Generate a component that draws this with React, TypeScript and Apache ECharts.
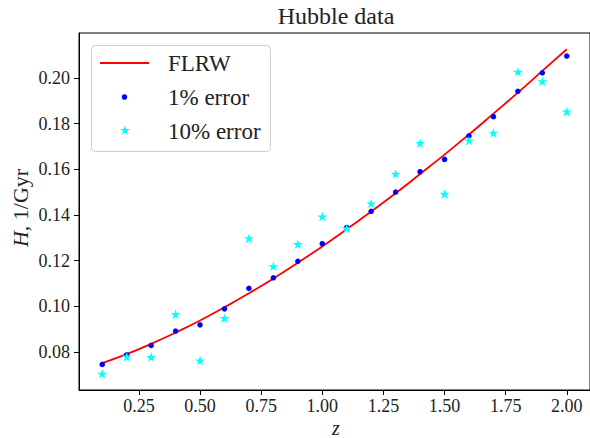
import React, { useEffect, useRef } from "react";
import * as echarts from "echarts";

const zValues = [0.1, 0.2, 0.3, 0.4, 0.5, 0.6, 0.7, 0.8, 0.9, 1.0, 1.1, 1.2, 1.3, 1.4, 1.5, 1.6, 1.7, 1.8, 1.9, 2.0];
const flrwH = [0.0752, 0.0791, 0.0836, 0.0885, 0.0938, 0.0996, 0.1057, 0.1122, 0.1191, 0.1262, 0.1337, 0.1415, 0.1495, 0.1579, 0.1664, 0.1752, 0.1843, 0.1935, 0.2030, 0.2125];
const err1H = [0.0746, 0.0788, 0.0829, 0.0892, 0.0919, 0.0989, 0.1079, 0.1125, 0.1197, 0.1274, 0.1345, 0.1416, 0.1500, 0.1589, 0.1643, 0.1746, 0.1830, 0.1941, 0.2022, 0.2095];
const err10H = [0.0705, 0.0780, 0.0778, 0.0966, 0.0763, 0.0948, 0.1297, 0.1175, 0.1272, 0.1393, 0.1341, 0.1450, 0.1580, 0.1714, 0.1492, 0.1726, 0.1759, 0.2026, 0.1984, 0.1852];
const xTicks = [0.25, 0.5, 0.75, 1.0, 1.25, 1.5, 1.75, 2.0];
const yTicks = [0.08, 0.1, 0.12, 0.14, 0.16, 0.18, 0.2];

const FONT = "'Liberation Serif', 'DejaVu Serif', serif";
const STAR = "path://M0,-1L0.2245,-0.309L0.9511,-0.309L0.3633,0.118L0.5878,0.809L0,0.382L-0.5878,0.809L-0.3633,0.118L-0.9511,-0.309L-0.2245,-0.309Z";

function starPoints(cx: number, cy: number, r: number): number[][] {
  const pts: number[][] = [];
  for (let i = 0; i < 10; i++) {
    const a = (-90 + i * 36) * Math.PI / 180;
    const rr = i % 2 === 0 ? r : r * 0.382;
    pts.push([cx + rr * Math.cos(a), cy + rr * Math.sin(a)]);
  }
  return pts;
}

export default function App() {
  const ref = useRef<HTMLDivElement>(null);
  useEffect(() => {
    if (!ref.current) return;
    const chart = echarts.init(ref.current, null, { renderer: "svg" });
    const pair = (ys: number[]) => zValues.map((z, i) => [z, ys[i]]);
    chart.setOption({
      animation: false,
      backgroundColor: "#ffffff",
      grid: { left: 79, top: 33, right: -3, bottom: 48, show: true, borderColor: "#000", borderWidth: 1, backgroundColor: "transparent" },
      xAxis: {
        type: "value", min: 0.005, max: 2.095,
        axisLine: { show: true, lineStyle: { color: "#000", width: 1 } },
        splitLine: { show: false },
        axisTick: { show: true, length: 5, inside: false, customValues: xTicks, lineStyle: { color: "#000", width: 1 } },
        axisLabel: { customValues: xTicks, formatter: (v: number) => v.toFixed(2), color: "#222", fontFamily: FONT, fontSize: 18, margin: 7 },
      },
      yAxis: {
        type: "value", min: 0.0634, max: 0.2196,
        axisLine: { show: true, lineStyle: { color: "#000", width: 1 } },
        splitLine: { show: false },
        axisTick: { show: true, length: 5, inside: false, customValues: yTicks, lineStyle: { color: "#000", width: 1 } },
        axisLabel: { customValues: yTicks, formatter: (v: number) => v.toFixed(2), color: "#222", fontFamily: FONT, fontSize: 18, margin: 9 },
      },
      series: [
        { name: "FLRW", type: "line", data: pair(flrwH), smooth: true, symbol: "none", lineStyle: { color: "#ff0000", width: 1.8 }, z: 2 },
        { name: "1% error", type: "scatter", data: pair(err1H), symbol: "circle", symbolSize: 5.5, itemStyle: { color: "#0000ff", opacity: 1 }, z: 3 },
        { name: "10% error", type: "scatter", data: pair(err10H), symbol: STAR, symbolKeepAspect: true, symbolSize: 10, itemStyle: { color: "#00ffff", opacity: 1 }, z: 4 },
      ],
      graphic: [
        { type: "text", x: 336, y: 16, style: { text: "Hubble data", font: `24px ${FONT}`, fill: "#222", align: "center", verticalAlign: "middle" } },
        { type: "text", x: 336, y: 428, style: { text: "z", font: `italic 20px ${FONT}`, fill: "#222", align: "center", verticalAlign: "middle" } },
        {
          type: "text", x: 20, y: 208, rotation: Math.PI / 2,
          style: {
            text: "{i|H}, 1/Gyr", fill: "#222", align: "center", verticalAlign: "middle", font: `22px ${FONT}`,
            rich: { i: { fontStyle: "italic", fontFamily: FONT, fontSize: 22, fill: "#222" } },
          },
        },
        { type: "rect", shape: { x: 91.5, y: 45.5, width: 179, height: 106, r: 4 }, style: { fill: "rgba(255,255,255,0.8)", stroke: "#cccccc", lineWidth: 1 }, z: 100 },
        { type: "line", shape: { x1: 100, y1: 63, x2: 149, y2: 63 }, style: { stroke: "#ff0000", lineWidth: 1.8 }, z: 101 },
        { type: "circle", shape: { cx: 124.5, cy: 97, r: 2.75 }, style: { fill: "#0000ff" }, z: 101 },
        { type: "polygon", shape: { points: starPoints(125, 130.5, 5.2) }, style: { fill: "#00ffff" }, z: 101 },
        { type: "text", x: 168, y: 63, style: { text: "FLRW", font: `23px ${FONT}`, fill: "#222", verticalAlign: "middle" }, z: 101 },
        { type: "text", x: 168, y: 97, style: { text: "1% error", font: `23px ${FONT}`, fill: "#222", verticalAlign: "middle" }, z: 101 },
        { type: "text", x: 168, y: 131, style: { text: "10% error", font: `23px ${FONT}`, fill: "#222", verticalAlign: "middle" }, z: 101 },
      ],
    });
    return () => chart.dispose();
  }, []);
  return <div ref={ref} style={{ position: "absolute", left: 0, top: 0, width: 590, height: 438 }} />;
}
